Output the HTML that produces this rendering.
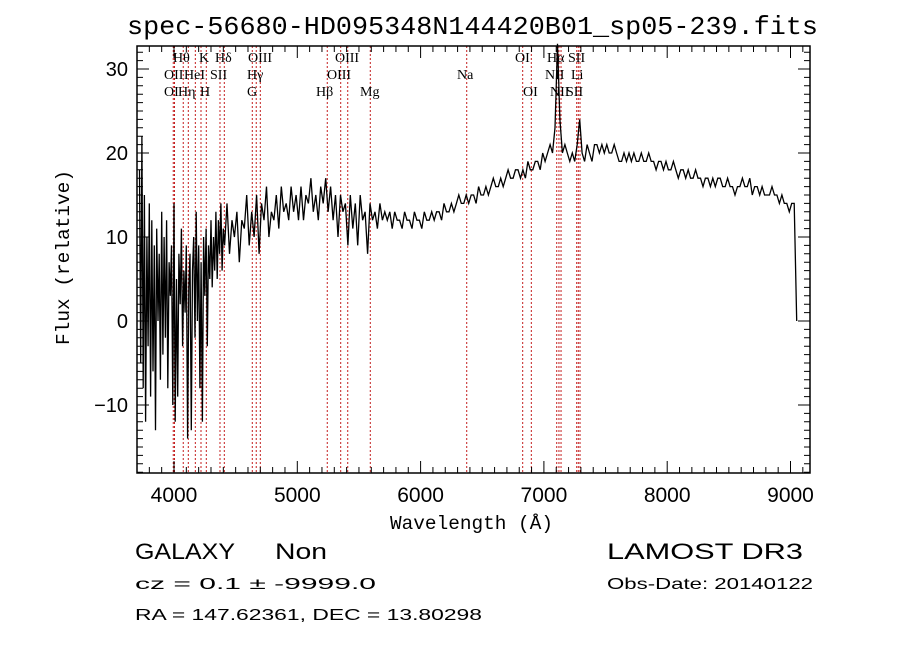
<!DOCTYPE html>
<html><head><meta charset="utf-8"><style>
html,body{margin:0;padding:0;background:#fff;}
svg{display:block;}
</style></head><body>
<svg id="chart" width="900" height="649" xmlns="http://www.w3.org/2000/svg" font-family="Liberation Sans, sans-serif">
<rect width="900" height="649" fill="#fff"/>
<text x="127" y="34" font-family="Liberation Mono, monospace" font-size="26" textLength="691" lengthAdjust="spacingAndGlyphs">spec-56680-HD095348N144420B01_sp05-239.fits</text>
<g id="lines"></g>
<g id="labels" font-family="Liberation Serif, serif" font-size="14"></g>
<g id="spec"></g>
<g id="axes"></g>
<text x="390" y="529" font-family="Liberation Mono, monospace" font-size="19" textLength="163" lengthAdjust="spacingAndGlyphs">Wavelength (Å)</text>
<text transform="translate(69,345) rotate(-90)" font-family="Liberation Mono, monospace" font-size="19" textLength="175" lengthAdjust="spacingAndGlyphs">Flux (relative)</text>
<g font-family="Liberation Sans, sans-serif">
<text x="135" y="559" font-size="22" textLength="100" lengthAdjust="spacingAndGlyphs">GALAXY</text>
<text x="275" y="559" font-size="22" textLength="52" lengthAdjust="spacingAndGlyphs">Non</text>
<text x="607" y="559" font-size="22" textLength="196" lengthAdjust="spacingAndGlyphs">LAMOST DR3</text>
<text x="135" y="589" font-size="16" textLength="241" lengthAdjust="spacingAndGlyphs">cz = 0.1 ± -9999.0</text>
<text x="607" y="589" font-size="16" textLength="206" lengthAdjust="spacingAndGlyphs">Obs-Date: 20140122</text>
<text x="135" y="620" font-size="16" textLength="347" lengthAdjust="spacingAndGlyphs">RA = 147.62361, DEC =  13.80298</text>
</g>
</svg>
<script>
const wavelengths = [];
const fluxBlue = [18,-5,22,-8,15,-12,10,-3,14,-9, 12,-6,9,-13,11,0,8,-7,13,-4, 10,-2,12,-8,7,3,9,-10,14,-12, 5,-9,8,2,11,-3,6,1,9,-14, 4,8,-13,6,10,-2,13,0,9,-8, 7,-12,10,3,11,-3,9,5,12,4, 10,6,13,5,12,8,14,6,11,9];
const fluxRed = [14,8,12,10,13,7,12,11,15,9, 13,10,15,8,14,12,16,10,13,12, 15,11,16,13,14,12,16,13,15,12, 16,12,15,14,17,13,15,12,16,14, 17,13,16,12,15,10,15,13,14,9, 15,11,14,9,15,12,13,8,14,12, 13,11,14,12,13,12,13,11,13,12, 12,11,13,12,12,11,13,12,12,11, 13,12,12,13,12,13,13,12,14,13, 13,14,13,14,15,14,14,15,14,15, 15,14,16,15,15,16,15,16,17,16, 16,17,16,17,18,17,17,18,18,17, 18,17,19,18,18,19,19,18,20,19, 20,21,20,23,33,24,20,21,20,19, 20,19,21,24,20,19,21,20,19,21, 21,20,21,20,21,20,20,21,20,19, 19,20,19,20,19,20,19,19,20,19, 19,20,19,19,18,19,19,18,19,18, 18,19,18,17,18,18,17,18,17,17, 18,17,17,16,17,17,16,17,16,17, 17,16,16,17,16,16,15,16,16,17, 16,16,17,15,16,16,15,16,15,15, 15,16,15,15,14,15,14,14,13,14, 14,0];
const lineWaves = [3994,4004,4075,4116,4173,4219,4262,4373,4408,4635,4667,4700,5243,5352,5409,5592,6374,6828,6898,7104,7122,7139,7266,7279,7293];
const lineLabels = ["Hθ","K","Hδ","OIII","OIII","OII","HeI","SII","Hγ","OIII","OI","Hη","H","G","Hβ","Mg","OI","Hα","SII","Na","NII","Li","OI","NII","SII"];
const labelX = [173,199,215,248,335,164,184,210,247,327,164,178,200,247,316,360,515,547,568,457,545,571,523,550,566];
const labelRow = [0,0,0,0,0,1,1,1,1,1,2,2,2,2,2,2,0,0,0,1,1,1,2,2,2];
const xTicks = [4000,5000,6000,7000,8000,9000];
const yTicks = [-10,0,10,20,30];

const X0=137,X1=810,Y0=46,Y1=473;
const xs = w => 174 + (w-4000)*0.1233;
const ys = f => 321 - f*8.4;
const NS="http://www.w3.org/2000/svg";
function mk(tag, parent){const e=document.createElementNS(NS,tag);parent.appendChild(e);return e;}

for(let i=0;i<fluxBlue.length;i++) wavelengths.push(3720+i*10);
for(let i=0;i<fluxRed.length;i++) wavelengths.push(4430+i*20);
const flux = fluxBlue.concat(fluxRed);

const gl=document.getElementById('lines');
lineWaves.forEach((w)=>{
  const l=mk('line',gl);
  
  
  l.setAttribute('x1',xs(w));l.setAttribute('x2',xs(w));
  l.setAttribute('y1',Y0);l.setAttribute('y2',Y1);
  l.setAttribute('stroke','#c41e1e');l.setAttribute('stroke-width','1');
  l.setAttribute('stroke-dasharray','2,2');
});
const glab=document.getElementById('labels');
lineLabels.forEach((t,i)=>{
  const e=mk('text',glab);
  
  
  e.setAttribute('x',labelX[i]);e.setAttribute('y',62+labelRow[i]*17);
  e.textContent=t;
});
const gs=document.getElementById('spec');
const p=mk('polyline',gs);


p.setAttribute('points',wavelengths.map((w,i)=>xs(w).toFixed(1)+','+ys(flux[i]).toFixed(1)).join(' '));
p.setAttribute('fill','none');p.setAttribute('stroke','#000');p.setAttribute('stroke-width','1.3');

const ga=document.getElementById('axes');
const box=mk('rect',ga);


box.setAttribute('x',X0);box.setAttribute('y',Y0);box.setAttribute('width',X1-X0);box.setAttribute('height',Y1-Y0);
box.setAttribute('fill','none');box.setAttribute('stroke','#000');box.setAttribute('stroke-width','1.5');
let d='';
for(let w=3700;w<=9100;w+=100){
  const x=xs(w); if(x<X0||x>X1) continue;
  const len = (w%1000===0)?12:6;
  d+=`M${x},${Y1}v${-len}M${x},${Y0}v${len}`;
}
for(let f=-18;f<=32;f++){
  const y=ys(f); if(y<Y0||y>Y1) continue;
  const len=(f%10===0)?12:6;
  d+=`M${X0},${y}h${len}M${X1},${y}h${-len}`;
}
const tk=mk('path',ga);


tk.setAttribute('d',d);tk.setAttribute('stroke','#000');tk.setAttribute('stroke-width','1');
xTicks.forEach(v=>{
  const t=mk('text',ga);
  
  
  t.setAttribute('x',xs(v));t.setAttribute('y',502);t.setAttribute('text-anchor','middle');
  t.setAttribute('font-size','21');t.textContent=v;
});
yTicks.forEach(v=>{
  const t=mk('text',ga);
  
  
  t.setAttribute('x',128);t.setAttribute('y',ys(v)+7);t.setAttribute('text-anchor','end');
  t.setAttribute('font-size','20');t.textContent=(v<0?'−':'')+Math.abs(v);
});
</script>
</body></html>
